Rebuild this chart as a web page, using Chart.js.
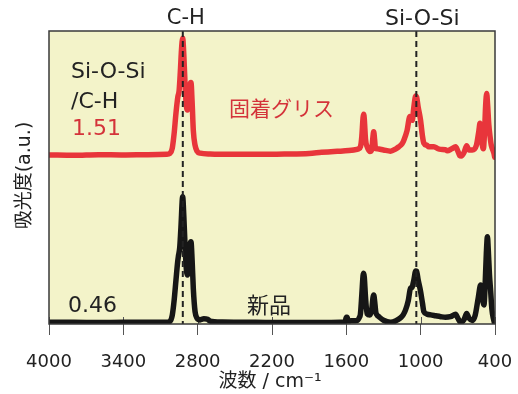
<!DOCTYPE html>
<html><head><meta charset="utf-8">
<script src="https://cdn.jsdelivr.net/npm/chart.js@4.4.0/dist/chart.umd.min.js"></script>
<style>html,body{margin:0;padding:0;background:#fff}#wrap{width:518px;height:394px}</style>
</head><body><div id="wrap"><canvas id="c" width="518" height="394"></canvas></div>
<script>
const xTicks = [4000, 3400, 2800, 2200, 1600, 1000, 400];
const peakMarks = [2920, 1035];
const peakLabels = ["C-H", "Si-O-Si"];

const redWn = [4000,3800,3600,3400,3200,3050,3024,3005,2990,2975,2960,2950,2940,2930,2921,2912,2900,2890,2882,2870,2860,2854,2845,2835,2821,2805,2780,2700,2500,2300,2100,1900,1800,1700,1646,1580,1541,1500,1486,1475,1465,1460,1455,1445,1432,1411,1395,1385,1379,1372,1365,1351,1300,1244,1200,1176,1150,1135,1110,1087,1075,1068,1055,1040,1033,1020,1001,985,974,950,934,893,860,839,800,785,750,718,700,685,672,650,629,610,583,550,530,521,510,500,494,485,475,467,460,450,440,430,421,410,402];
const redAbs = [57.7,57.6,57.8,57.7,57.8,57.9,58.2,60,65,72,77.5,79.5,86,94,97.5,92,80,74,73,78,82,82.4,76,66,61,59,58.3,58.0,57.9,57.9,58.0,58.2,58.6,58.9,59,59.2,59.4,59.8,60.5,64,70.5,71.6,70,63,60.5,58.9,59.5,64,65.6,63,60,59.8,59.4,59.0,59.8,60.5,61.5,62.8,66,70.8,70,69.5,74,77.8,77.5,74,69.6,64,61.7,61,60.5,60.5,59.8,59.6,59.5,59.1,59.8,60.5,59,57.5,57.3,58.5,60.8,59.4,59.4,61,66,68.5,64,60.5,59.8,65,75,78.7,75,68,64.0,61,59.8,58.5,56.9];

const blackWn = [4000,3800,3600,3400,3200,3050,3024,3005,2990,2975,2962,2956,2945,2935,2921,2912,2900,2890,2882,2870,2860,2854,2845,2835,2821,2805,2781,2750,2720,2700,2600,2400,2200,2000,1800,1650,1610,1600,1594,1585,1560,1513,1495,1486,1475,1465,1460,1455,1445,1432,1411,1395,1385,1379,1372,1362,1351,1338,1300,1244,1200,1163,1140,1122,1100,1082,1070,1055,1040,1033,1020,1001,985,974,950,920,880,839,800,760,718,700,677,650,629,610,583,560,535,516,505,489,480,470,461,455,445,435,425,413,402];
const blackAbs = [0.6,0.6,0.5,0.6,0.6,0.6,0.9,3,8,15,21,23,26,33,43.4,37,25,18,16.7,23,27.5,28.1,22,12,4.2,2,1.4,1.8,1.6,1.0,0.7,0.6,0.5,0.5,0.5,0.6,0.7,2.3,2.3,1.0,1.1,1.2,2.2,3.5,10,16.5,17.3,16,9,3.5,3.1,5,9,9.9,8,4,3,2.5,1.3,0.6,1.1,2.1,3.2,4.8,8,12.2,12.5,15,18.1,18,15,11.2,7,4.2,3.4,3.1,2.8,2.5,2.3,2.5,3.3,2,0.6,1.5,3.6,2,1.2,3,9,13.3,10,6.5,13,24,29.8,26,17,11.2,5,1.9,0];

const FONT = '"DejaVu Sans","Noto Sans CJK JP",sans-serif';
const RED = '#e8353b';
const RED_TXT = '#d4333a';
const INK = '#222';

const toPts = (xs, ys) => xs.map((x, i) => ({x, y: ys[i]}));

const deco = {
  id: 'deco',
  beforeDraw(chart) {
    const {ctx, chartArea: a} = chart;
    ctx.save();
    ctx.fillStyle = '#f3f3c9';
    ctx.fillRect(a.left, a.top, a.right - a.left, a.bottom - a.top);
    const xs = chart.scales.x;
    ctx.strokeStyle = '#555';
    ctx.lineWidth = 1;
    xTicks.forEach(t => {
      const px = Math.round(xs.getPixelForValue(t)) + 0.5;
      ctx.beginPath(); ctx.moveTo(px, a.bottom); ctx.lineTo(px, a.bottom - 7); ctx.stroke();
    });
    ctx.restore();
  },
  afterDatasetsDraw(chart) {
    const {ctx, chartArea: a} = chart;
    const xs = chart.scales.x;
    ctx.save();
    ctx.strokeStyle = '#222';
    ctx.lineWidth = 2;
    ctx.setLineDash([6, 4]);
    peakMarks.forEach(w => {
      const px = xs.getPixelForValue(w);
      ctx.beginPath(); ctx.moveTo(px, a.top); ctx.lineTo(px, a.bottom); ctx.stroke();
    });
    ctx.setLineDash([]);
    ctx.strokeStyle = '#3a3a3a';
    ctx.lineWidth = 1.5;
    ctx.strokeRect(a.left, a.top, a.right - a.left, a.bottom - a.top);
    ctx.textBaseline = 'middle';
    ctx.fillStyle = INK;
    ctx.textAlign = 'center';
    ctx.font = '21px ' + FONT;
    ctx.fillText(peakLabels[0], xs.getPixelForValue(peakMarks[0]) + 3, 19);
    ctx.font = '22px ' + FONT;
    ctx.fillText(peakLabels[1], xs.getPixelForValue(peakMarks[1]) + 6, 19);
    ctx.textAlign = 'left';
    ctx.fillText('Si-O-Si', 71, 72);
    ctx.fillText('/C-H', 71, 102);
    ctx.fillText('0.46', 68, 306);
    ctx.fillText('新品', 247, 307);
    ctx.fillStyle = RED_TXT;
    ctx.fillText('1.51', 72, 129);
    ctx.font = '21px ' + FONT;
    ctx.fillText('固着グリス', 229, 111);
    ctx.fillStyle = INK;
    ctx.textAlign = 'center';
    ctx.font = '19px ' + FONT;
    ctx.fillText('波数 / cm⁻¹', (a.left + a.right) / 2 - 2, 382);
    ctx.translate(25, (a.top + a.bottom) / 2 - 2);
    ctx.rotate(-Math.PI / 2);
    ctx.fillText('吸光度(a.u.)', 0, 0);
    ctx.restore();
  }
};

new Chart(document.getElementById('c'), {
  type: 'line',
  data: {
    datasets: [
      {label: '固着グリス', data: toPts(redWn, redAbs), borderColor: RED, borderWidth: 5.5, pointRadius: 0, cubicInterpolationMode: 'monotone', borderJoinStyle: 'round', borderCapStyle: 'round', fill: false},
      {label: '新品', data: toPts(blackWn, blackAbs), borderColor: '#161616', borderWidth: 5.5, pointRadius: 0, cubicInterpolationMode: 'monotone', borderJoinStyle: 'round', borderCapStyle: 'round', fill: false}
    ]
  },
  options: {
    responsive: false,
    animation: false,
    devicePixelRatio: 1,
    layout: {padding: {left: 49, right: 23, top: 31, bottom: 0}},
    plugins: {legend: {display: false}, tooltip: {enabled: false}},
    scales: {
      x: {
        type: 'linear', reverse: true, min: 400, max: 4000,
        afterBuildTicks: s => { s.ticks = xTicks.map(v => ({value: v})); },
        afterFit: s => { s.height = 70; s.paddingLeft = 0; s.paddingRight = 0; },
        grid: {drawOnChartArea: false, drawTicks: true, tickLength: 11, color: '#555', lineWidth: 1},
        border: {display: false},
        ticks: {color: INK, font: {family: FONT, size: 18}, padding: 17, maxRotation: 0, autoSkip: false, callback: v => String(v)}
      },
      y: {display: false, min: 0, max: 100}
    }
  },
  plugins: [deco]
});
</script>
</body></html>
